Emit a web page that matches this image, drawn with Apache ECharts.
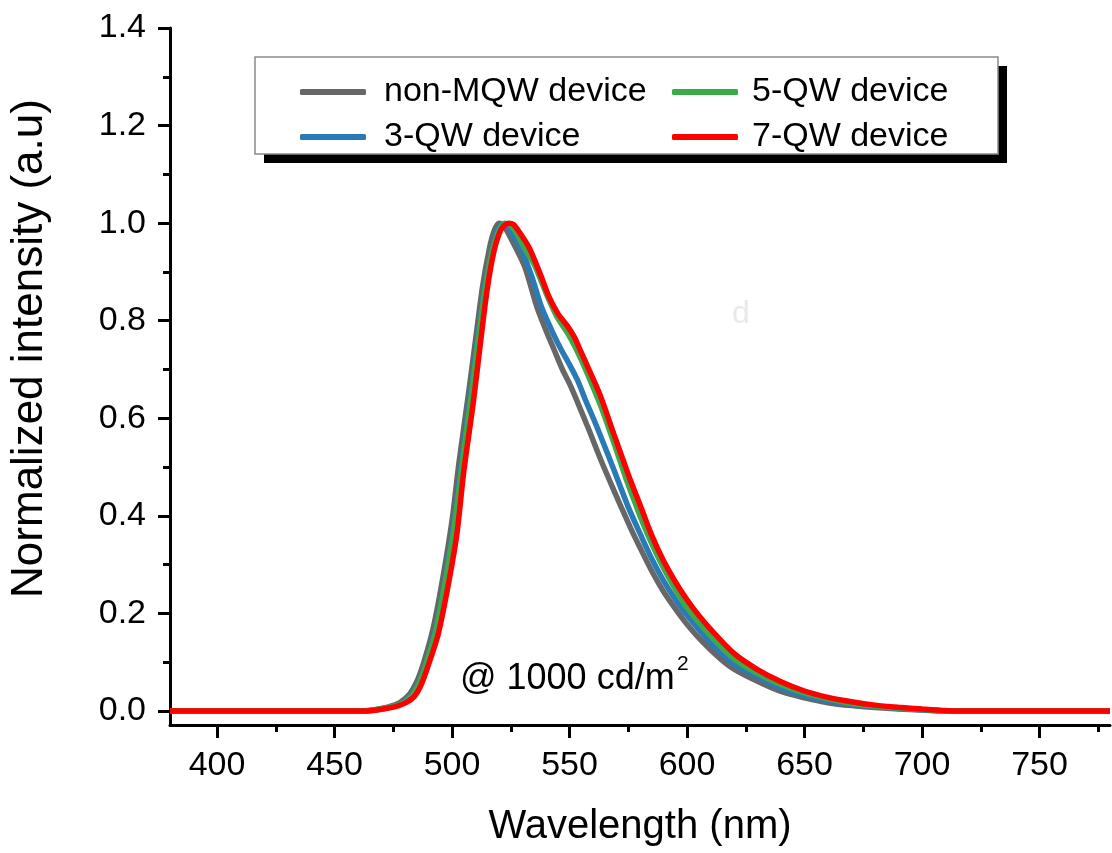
<!DOCTYPE html>
<html>
<head>
<meta charset="utf-8">
<title>Normalized EL spectra</title>
<script src="https://cdn.jsdelivr.net/npm/echarts@6/dist/echarts.min.js"></script>
<style>
  html, body { margin: 0; padding: 0; background: #fff; }
  #chart { width: 1112px; height: 853px; }
</style>
</head>
<body>
<div id="chart"></div>
<script>
// Electroluminescence spectra at 1000 cd/m^2, [wavelength (nm), normalized intensity]
const nonMqw = [[380,0],[462,0],[466,0.002],[470,0.005],[474,0.01],[478,0.018],[482,0.035],[485,0.06],[488,0.1],[492,0.17],[496,0.27],[500,0.39],[503,0.51],[507,0.65],[510,0.76],[513,0.87],[516,0.95],[518,0.985],[520,1.0],[522,0.995],[526,0.96],[531,0.91],[536,0.83],[540,0.78],[543.5,0.74],[547,0.70],[550.6,0.665],[557.7,0.583],[563.4,0.514],[568,0.462],[572,0.418],[576,0.375],[580,0.335],[585,0.287],[590,0.245],[595,0.21],[600,0.178],[606,0.145],[614,0.108],[620,0.086],[630,0.061],[640,0.04],[650,0.027],[660,0.017],[670,0.011],[680,0.007],[690,0.004],[700,0.002],[710,0],[780,0]];
const qw3 = [[380,0],[463,0],[467,0.002],[471,0.005],[475,0.01],[479,0.018],[483,0.035],[486,0.06],[489,0.1],[493,0.168],[497,0.268],[501,0.39],[504,0.505],[508,0.655],[511,0.765],[514,0.87],[517,0.945],[519,0.982],[521.5,0.998],[523,0.997],[526,0.975],[530,0.94],[534,0.89],[538,0.829],[542,0.785],[546,0.745],[550,0.71],[553.4,0.678],[557,0.635],[560.5,0.596],[566,0.53],[571,0.468],[575,0.418],[580,0.364],[585,0.312],[590,0.267],[595,0.229],[600,0.196],[610,0.14],[620,0.097],[630,0.07],[640,0.047],[650,0.032],[660,0.021],[670,0.014],[680,0.009],[690,0.005],[700,0.0025],[711,0],[780,0]];
const qw5 = [[380,0],[463,0],[467,0.002],[471,0.005],[475,0.01],[479,0.016],[483,0.032],[486,0.057],[489,0.097],[493,0.162],[497,0.262],[501,0.38],[504,0.495],[508,0.64],[511,0.755],[514,0.862],[517,0.94],[520,0.985],[522.5,1.0],[525,0.995],[528,0.975],[531,0.947],[535,0.915],[540.7,0.849],[545,0.805],[549,0.776],[552.5,0.745],[556.3,0.706],[560,0.664],[563.4,0.624],[569,0.548],[574,0.477],[577,0.438],[580,0.40],[585,0.343],[590,0.293],[595,0.25],[600,0.212],[610,0.154],[620,0.107],[630,0.077],[640,0.054],[650,0.037],[660,0.025],[670,0.016],[680,0.01],[690,0.006],[700,0.003],[712,0],[780,0]];
const qw7 = [[380,0],[464,0],[468,0.002],[472,0.005],[476,0.009],[480,0.016],[484,0.03],[487,0.055],[490,0.095],[494,0.155],[498,0.248],[502,0.36],[505,0.49],[509,0.63],[512,0.75],[515,0.865],[518,0.945],[521,0.988],[524,1.0],[526,0.998],[529,0.979],[533,0.948],[538,0.89],[541,0.852],[545,0.815],[549,0.79],[552,0.767],[555,0.735],[558,0.703],[563,0.648],[569,0.566],[573,0.512],[576,0.472],[580,0.423],[585,0.36],[590,0.308],[595,0.265],[600,0.228],[605,0.196],[610,0.168],[620,0.118],[630,0.085],[640,0.06],[650,0.041],[660,0.028],[670,0.019],[680,0.012],[690,0.0075],[700,0.004],[708,0.0015],[715,0],[780,0]];

const seriesNames = ['non-MQW device', '3-QW device', '5-QW device', '7-QW device'];
const seriesColors = ['#676767', '#2a7ab8', '#3bab4a', '#ff0000'];

// Axis ticks
const xMajorTicks = [400, 450, 500, 550, 600, 650, 700, 750];
const xMinorTicks = [425, 475, 525, 575, 625, 675, 725, 775];
const yMajorTicks = [0, 0.2, 0.4, 0.6, 0.8, 1.0, 1.2, 1.4];
const yMinorTicks = [0.1, 0.3, 0.5, 0.7, 0.9, 1.1, 1.3];

const FONT = '"Liberation Sans", Arial, Helvetica, sans-serif';
const X_MIN = 380, X_MAX = 780, Y_MIN = -0.0287, Y_MAX = 1.4;

const chart = echarts.init(document.getElementById('chart'), null, { renderer: 'canvas' });

const axisLine = { show: true, onZero: false, lineStyle: { color: '#000', width: 3 } };

const option = {
  animation: false,
  backgroundColor: '#fff',
  grid: { left: 170, right: 2, top: 28, bottom: 128, containLabel: false, outerBoundsMode: 'none' },
  xAxis: [
    {
      type: 'value', min: X_MIN, max: X_MAX, position: 'bottom',
      axisLine: axisLine,
      axisTick: { show: true, length: 13, lineStyle: { color: '#000', width: 3 }, customValues: xMajorTicks },
      axisLabel: { color: '#000', fontSize: 34, fontFamily: FONT, margin: 24, customValues: xMajorTicks },
      splitLine: { show: false },
      name: 'Wavelength (nm)', nameLocation: 'middle', nameGap: 82,
      nameTextStyle: { color: '#000', fontSize: 40, fontFamily: FONT }
    },
    {
      type: 'value', min: X_MIN, max: X_MAX, position: 'bottom',
      axisLine: { show: false, onZero: false },
      axisTick: { show: true, length: 7, lineStyle: { color: '#000', width: 3 }, customValues: xMinorTicks },
      axisLabel: { show: false },
      splitLine: { show: false }
    }
  ],
  yAxis: [
    {
      type: 'value', min: Y_MIN, max: Y_MAX, position: 'left',
      axisLine: axisLine,
      axisTick: { show: true, length: 12, lineStyle: { color: '#000', width: 3 }, customValues: yMajorTicks },
      axisLabel: {
        color: '#000', fontSize: 34, fontFamily: FONT, margin: 24, customValues: yMajorTicks,
        formatter: v => v.toFixed(1)
      },
      splitLine: { show: false },
      name: 'Normalized intensity (a.u)', nameLocation: 'middle', nameGap: 118, nameRotate: 90,
      nameTextStyle: { color: '#000', fontSize: 44, fontFamily: FONT, padding: [0, 0, 0, 56] }
    },
    {
      type: 'value', min: Y_MIN, max: Y_MAX, position: 'left',
      axisLine: { show: false, onZero: false },
      axisTick: { show: true, length: 7, lineStyle: { color: '#000', width: 3 }, customValues: yMinorTicks },
      axisLabel: { show: false },
      splitLine: { show: false }
    }
  ],
  legend: [
    {
      data: ['non-MQW device', '3-QW device'],
      orient: 'vertical', left: 295, top: 69, z: 10,
      icon: 'roundRect', itemWidth: 66, itemHeight: 6, itemGap: 9, selectedMode: false,
      textStyle: { color: '#000', fontSize: 34, lineHeight: 36, fontFamily: FONT, padding: [0, 0, 0, 13] }
    },
    {
      data: ['5-QW device', '7-QW device'],
      orient: 'vertical', left: 667, top: 69, z: 10,
      icon: 'roundRect', itemWidth: 66, itemHeight: 6, itemGap: 9, selectedMode: false,
      textStyle: { color: '#000', fontSize: 34, lineHeight: 36, fontFamily: FONT, padding: [0, 0, 0, 9] }
    }
  ],
  graphic: [
    // legend frame with solid drop shadow
    { type: 'rect', z: 1, shape: { x: 264, y: 66, width: 743, height: 97 }, style: { fill: '#000' } },
    { type: 'rect', z: 2, shape: { x: 255, y: 57, width: 743, height: 97 }, style: { fill: '#fff', stroke: '#8a8a8a', lineWidth: 1.5 } },
    // luminance annotation
    { type: 'text', z: 5, left: 460, top: 661, style: { text: '@ 1000 cd/m', fill: '#000', fontSize: 36, fontFamily: FONT } },
    { type: 'text', z: 5, left: 677, top: 654, style: { text: '2', fill: '#000', fontSize: 21, fontFamily: FONT } },
    // faint panel letter
    { type: 'text', z: 0, left: 732, top: 298, style: { text: 'd', fill: '#e9e9e9', fontSize: 32, fontWeight: 'lighter', fontFamily: FONT } }
  ],
  series: [nonMqw, qw3, qw5, qw7].map((data, i) => ({
    name: seriesNames[i],
    type: 'line',
    xAxisIndex: 0,
    yAxisIndex: 0,
    data: data,
    showSymbol: false,
    smooth: 0.3,
    color: seriesColors[i],
    lineStyle: { width: 5.5, color: seriesColors[i] },
    z: 3 + i
  }))
};

chart.setOption(option);
</script>
</body>
</html>
